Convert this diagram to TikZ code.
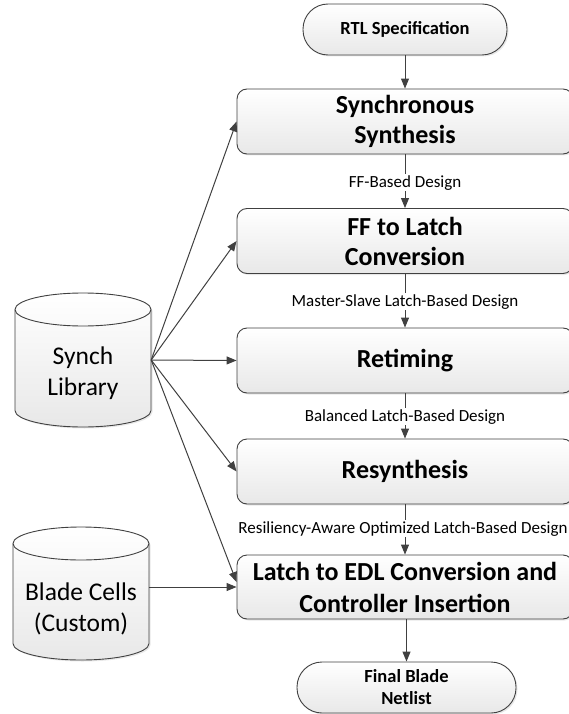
\documentclass[tikz,border=0pt]{standalone}
\usepackage{fontspec}
\setmainfont{Carlito}
\usetikzlibrary{arrows.meta,shadows}
\definecolor{ln}{HTML}{404040}
\tikzset{
  boxfill/.style={top color=white, bottom color=black!9},
  softshadow/.style={drop shadow={opacity=0.18, shadow xshift=1.5pt, shadow yshift=-1.5pt}},
  stepbox/.style={draw=ln, line width=0.9pt, rounded corners=10pt, minimum width=336pt,
    minimum height=65pt, boxfill, softshadow, inner sep=0pt, align=center,
    font=\fontsize{26}{30}\selectfont\bfseries},
  termbox/.style={draw=ln, line width=0.9pt, rounded corners=25pt, minimum height=51pt,
    boxfill, softshadow, inner sep=0pt, align=center,
    font=\fontsize{18.5}{22}\selectfont\bfseries},
  flow/.style={draw=ln, line width=1pt, -{Triangle[length=10pt,width=8pt]}},
  lbl/.style={fill=white, inner sep=1pt, anchor=base, font=\fontsize{17}{20}\selectfont},
  cyl/.style={draw=ln, line width=0.9pt, boxfill},
  cyltext/.style={align=center, font=\fontsize{25.5}{31}\selectfont},
  anchorbox/.style={minimum width=136pt, minimum height=134pt, inner sep=0pt},
}
\begin{document}
\begin{tikzpicture}
\useasboundingbox (0pt,0pt) rectangle (568pt,-714pt);

% cylinders
\path[cyl, softshadow] (15pt,-309.5pt) -- (15pt,-410.5pt)
  arc[start angle=180,end angle=360,x radius=68pt,y radius=16.5pt]
  -- (151pt,-309.5pt)
  arc[start angle=0,end angle=180,x radius=68pt,y radius=16.5pt] -- cycle;
\draw[draw=ln, line width=0.9pt] (15pt,-309.5pt)
  arc[start angle=180,end angle=360,x radius=68pt,y radius=16.5pt];
\node[anchorbox] (synch) at (83pt,-360pt) {};
\node[cyltext] (synchtxt) at (83pt,-373pt) {Synch\\Library};

\path[cyl, softshadow] (13pt,-543.5pt) -- (13pt,-643.5pt)
  arc[start angle=180,end angle=360,x radius=68pt,y radius=16.5pt]
  -- (149pt,-543.5pt)
  arc[start angle=0,end angle=180,x radius=68pt,y radius=16.5pt] -- cycle;
\draw[draw=ln, line width=0.9pt] (13pt,-543.5pt)
  arc[start angle=180,end angle=360,x radius=68pt,y radius=16.5pt];
\node[anchorbox] (blade) at (81pt,-593.5pt) {};
\node[cyltext] (bladetxt) at (81pt,-608.5pt) {Blade Cells\\(Custom)};

% main flow
\node[termbox, minimum width=204pt] (rtl) at (405pt,-29.5pt) {RTL Specification};
\node[stepbox] (ss) at (405pt,-121.5pt) {Synchronous\\Synthesis};
\node[stepbox] (ffl) at (405pt,-241pt) {FF to Latch\\Conversion};
\node[stepbox] (ret) at (405pt,-360.5pt) {Retiming};
\node[stepbox] (res) at (405pt,-471.5pt) {Resynthesis};
\node[stepbox, minimum height=64pt, font=\fontsize{26}{32}\selectfont\bfseries] (edl) at (405pt,-587pt) {Latch to EDL Conversion and\\Controller Insertion};
\node[termbox, minimum width=219pt] (fin) at (406.5pt,-687.5pt) {Final Blade\\Netlist};

\draw[flow] (rtl) -- (ss);
\draw[flow] (ss) -- (ffl);
\draw[flow] (ffl) -- (ret);
\draw[flow] (ret) -- (res);
\draw[flow] (res) -- (edl);
\draw[flow] (edl.south -| fin.north) -- (fin.north);

\node[lbl] (l1) at (405pt,-187pt) {FF-Based Design};
\node[lbl] (l2) at (405pt,-306pt) {Master-Slave Latch-Based Design};
\node[lbl] (l3) at (405pt,-421pt) {Balanced Latch-Based Design};
\node[lbl] (l4) at (403pt,-533pt) {Resiliency-Aware Optimized Latch-Based Design};

% library connections
\draw[flow] (synch.east) -- (ss.west);
\draw[flow] (synch.east) -- (ffl.west);
\draw[flow] (synch.east) -- (ret.west);
\draw[flow] (synch.east) -- (res.west);
\draw[flow] (synch.east) -- ([yshift=5pt]edl.west);
\draw[flow] (blade.east |- edl.west) -- (edl.west);
\end{tikzpicture}
\end{document}
